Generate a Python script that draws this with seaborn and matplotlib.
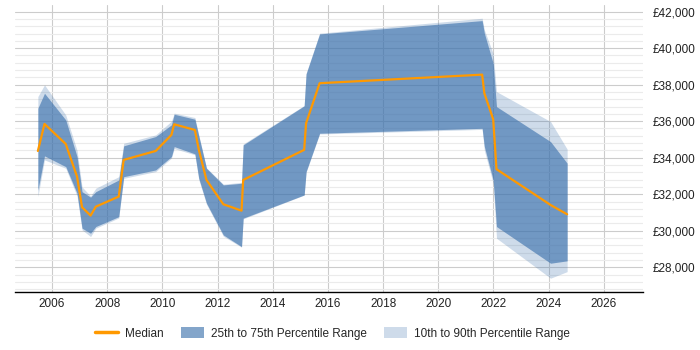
import pandas as pd
import numpy as np
import matplotlib
matplotlib.use('Agg')
import matplotlib.pyplot as plt
from matplotlib.ticker import MultipleLocator, FuncFormatter
from matplotlib.patches import Patch
from matplotlib.lines import Line2D
import seaborn as sns

# --- data (decimal years, GBP) ---
years = [2005.49, 2005.73, 2006.50, 2006.91, 2007.09, 2007.40, 2007.59, 2008.42, 2008.60,
         2009.76, 2010.33, 2010.43, 2011.18, 2011.32, 2011.60, 2012.21, 2012.87, 2012.93,
         2015.14, 2015.21, 2015.70, 2021.59, 2021.67, 2021.99, 2022.11, 2024.07, 2024.67]
median = [34370, 35850, 34750, 32960, 31290, 30830, 31320, 31870, 33880,
          34370, 35250, 35830, 35520, 34450, 32780, 31450, 31100, 32780,
          34430, 35890, 38080, 38550, 37530, 36110, 33370, 31410, 30900]
p25 = [32220, 34100, 33510, 32050, 30140, 29860, 30230, 30770, 32960,
       33330, 34060, 34610, 34210, 32880, 31510, 29770, 29130, 30690,
       31960, 33240, 35340, 35610, 34610, 32780, 30230, 28220, 28350]
p75 = [36710, 37530, 36070, 34060, 32140, 31840, 32140, 32780, 34650,
       35160, 35800, 36380, 36110, 35200, 33420, 32510, 32600, 34700,
       36840, 38590, 40780, 41510, 40820, 39170, 36800, 34880, 33700]
p10 = [31870, 33880, 33420, 31900, 30050, 29680, 30140, 30700, 32870,
       33240, 33980, 34500, 34160, 32800, 31450, 29700, 29100, 30650,
       31950, 33200, 35300, 35550, 34400, 32600, 29590, 27400, 27760]
p90 = [37350, 37990, 36340, 34400, 32400, 31900, 32330, 32960, 34790,
       35250, 36000, 36440, 36200, 35250, 33450, 32550, 32650, 34750,
       36860, 38620, 40820, 41640, 41000, 39700, 37620, 35980, 34470]

df = pd.DataFrame({'year': years, 'median': median, 'p10': p10, 'p25': p25,
                   'p75': p75, 'p90': p90})

# --- style ---
sns.set_theme(style='white')
plt.rcParams['font.family'] = ['Liberation Sans', 'DejaVu Sans']

band_color = '#3d72ad'
orange = '#ff9900'

fig, ax = plt.subplots(figsize=(7, 3.5), dpi=100)
fig.subplots_adjust(left=0.021, right=0.919, top=0.986, bottom=0.165)

ax.fill_between(df['year'], df['p10'], df['p90'], color=band_color, alpha=0.25,
                linewidth=0, zorder=2)
ax.fill_between(df['year'], df['p25'], df['p75'], color=band_color, alpha=0.64,
                linewidth=0, zorder=3)
sns.lineplot(data=df, x='year', y='median', color=orange, linewidth=1.6, ax=ax, zorder=4)

# --- axes ---
ax.set_xlim(2004.65, 2027.43)
ax.set_ylim(26630, 42370)
ax.xaxis.set_major_locator(MultipleLocator(2))
ax.xaxis.set_major_formatter(FuncFormatter(lambda v, p: f'{int(round(v))}'))
ax.yaxis.set_major_locator(MultipleLocator(2000))
ax.yaxis.set_minor_locator(MultipleLocator(400))
ax.yaxis.set_major_formatter(FuncFormatter(lambda v, p: f'£{int(v):,}'))
ax.yaxis.tick_right()
ax.tick_params(axis='both', which='both', length=0, labelsize=8.5, colors='#222222')
ax.tick_params(axis='y', pad=7)
ax.tick_params(axis='x', pad=4)
ax.set_xlabel('')
ax.set_ylabel('')

ax.grid(which='major', axis='both', color='#cccccc', linewidth=0.8, zorder=0)
ax.grid(which='minor', axis='y', color='#ebebeb', linewidth=0.8, zorder=0)
ax.set_axisbelow(True)

for s in ['top', 'left', 'right']:
    ax.spines[s].set_visible(False)
ax.spines['bottom'].set_color('#000000')
ax.spines['bottom'].set_linewidth(1)

# --- legend ---
handles = [
    Line2D([0], [0], color=orange, linewidth=2.5),
    Patch(facecolor=band_color, alpha=0.64, edgecolor='none'),
    Patch(facecolor=band_color, alpha=0.25, edgecolor='none'),
]
labels = ['Median', '25th to 75th Percentile Range', '10th to 90th Percentile Range']
fig.legend(handles, labels, loc='center', bbox_to_anchor=(0.475, 0.048), ncol=3,
           frameon=False, fontsize=8.5, handlelength=2.0, handleheight=1.1,
           columnspacing=1.4, handletextpad=0.6)

fig.savefig('out.png', dpi=100)
